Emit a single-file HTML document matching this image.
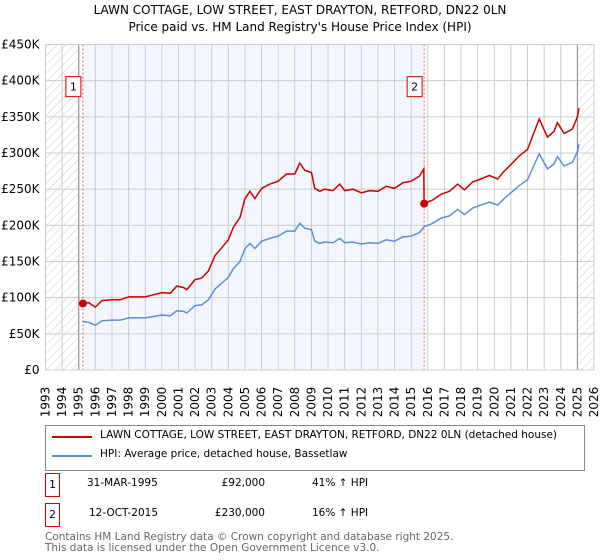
<!DOCTYPE html>
<html><head><meta charset="utf-8"><style>
body{margin:0;background:#fff;font-family:"DejaVu Sans","Liberation Sans",sans-serif;}
#wrap{position:relative;width:600px;height:560px;overflow:hidden;}
.t{position:absolute;font-size:12px;color:#000;white-space:nowrap;}
.box{position:absolute;width:13px;height:22px;border:1px solid #c00;font-size:11px;text-align:center;line-height:22px;}
svg text{font-family:"DejaVu Sans","Liberation Sans",sans-serif;}
</style></head><body><div id="wrap">
<div class="t" style="left:0;width:600px;text-align:center;top:3px;font-size:12px">LAWN COTTAGE, LOW STREET, EAST DRAYTON, RETFORD, DN22 0LN</div>
<div class="t" style="left:0;width:600px;text-align:center;top:20px;font-size:12px">Price paid vs. HM Land Registry's House Price Index (HPI)</div>
<svg id="c" width="600" height="420" style="position:absolute;left:0;top:0"></svg>
<div style="position:absolute;left:45px;top:425px;width:538px;height:44px;border:1px solid #888"></div>
<div style="position:absolute;left:52px;top:436px;width:40px;height:2px;background:#c00"></div>
<div class="t" style="left:100px;top:429px;font-size:10.5px">LAWN COTTAGE, LOW STREET, EAST DRAYTON, RETFORD, DN22 0LN (detached house)</div>
<div style="position:absolute;left:52px;top:455px;width:40px;height:2px;background:#5b8fd4"></div>
<div class="t" style="left:100px;top:448px;font-size:10.5px">HPI: Average price, detached house, Bassetlaw</div>
<div class="box" style="left:45px;top:473px">1</div>
<div class="t" style="left:87px;top:477px;font-size:10.5px">31-MAR-1995</div>
<div class="t" style="left:200px;width:65px;text-align:right;top:477px;font-size:10.5px">£92,000</div>
<div class="t" style="left:312px;top:477px;font-size:10.5px">41% ↑ HPI</div>
<div class="box" style="left:45px;top:503px">2</div>
<div class="t" style="left:89px;top:507px;font-size:10.5px">12-OCT-2015</div>
<div class="t" style="left:200px;width:65px;text-align:right;top:507px;font-size:10.5px">£230,000</div>
<div class="t" style="left:312px;top:507px;font-size:10.5px">16% ↑ HPI</div>
<div class="t" style="left:45px;top:532px;font-size:10.5px;color:#666;line-height:11px">Contains HM Land Registry data © Crown copyright and database right 2025.<br>This data is licensed under the Open Government Licence v3.0.</div>
</div>
<script>
const hpiDates=[1995.25,1995.6,1996.0,1996.4,1997,1997.5,1998,1998.5,1999,1999.5,2000,2000.5,2000.9,2001.3,2001.5,2002,2002.4,2002.8,2003.2,2003.6,2004,2004.3,2004.7,2005,2005.3,2005.6,2006,2006.5,2007,2007.5,2008,2008.3,2008.6,2009,2009.2,2009.5,2009.8,2010.3,2010.7,2011,2011.5,2012,2012.5,2013,2013.5,2014,2014.5,2015,2015.5,2015.78,2016.3,2016.8,2017.3,2017.8,2018.2,2018.7,2019.2,2019.7,2020.2,2020.6,2021,2021.5,2022,2022.7,2023.2,2023.6,2023.8,2024.2,2024.7,2025,2025.1];
const hpiValues=[67,66,62,68,69,69,72,72,72,74,76,75,82,81,79,89,90,97,112,120,128,140,150,168,175,168,178,182,185,192,192,203,196,194,178,175,177,176,182,176,177,174,176,175,180,178,184,185,190,198,203,210,213,222,215,224,228,232,228,237,245,255,263,299,278,285,295,282,287,302,312];
const propDates=[1995.25,1995.6,1996.0,1996.4,1997,1997.5,1998,1998.5,1999,1999.5,2000,2000.5,2000.9,2001.3,2001.5,2002,2002.4,2002.8,2003.2,2003.6,2004,2004.3,2004.7,2005,2005.3,2005.6,2006,2006.5,2007,2007.5,2008,2008.3,2008.6,2009,2009.2,2009.5,2009.8,2010.3,2010.7,2011,2011.5,2012,2012.5,2013,2013.5,2014,2014.5,2015,2015.5,2015.76,2015.78,2016.3,2016.8,2017.3,2017.8,2018.2,2018.7,2019.2,2019.7,2020.2,2020.6,2021,2021.5,2022,2022.7,2023.2,2023.6,2023.8,2024.2,2024.7,2025,2025.1];
const propValues=[92,93,87,96,97,97,101,101,101,104,107,106,116,114,111,125,127,137,158,169,180,197,211,237,247,237,251,257,261,271,271,286,276,273,251,247,250,248,257,248,250,245,248,247,254,251,259,261,268,278,230,235,243,247,257,249,260,264,269,264,275,284,296,305,347,322,330,342,327,333,350,362];
const saleDates=[1995.25,2015.78];
const saleValues=[92,230];
const saleLabels=["1","2"];
const yTicks=[0,50,100,150,200,250,300,350,400,450];
const yTickLabels=["£0","£50K","£100K","£150K","£200K","£250K","£300K","£350K","£400K","£450K"];
const xYears=[];for(let y=1993;y<=2026;y++)xYears.push(y);

const X0=45.5,X1=594,Y0=370,Y1=44.5;
const x=d=>X0+(d-1993)/(2026-1993)*(X1-X0);
const y=v=>Y0-v/450*(Y0-Y1);
const svg=document.getElementById('c');const NS='http://www.w3.org/2000/svg';
function mk(t,a){const e=document.createElementNS(NS,t);for(const k in a)e.setAttribute(k,a[k]);svg.appendChild(e);return e;}
const defs=mk('defs',{});
defs.innerHTML='<pattern id="h" width="6" height="6" patternUnits="userSpaceOnUse" patternTransform="rotate(45)"><line x1="0" y1="0" x2="0" y2="6" stroke="#ccc" stroke-width="1"/></pattern>';
let r=mk('rect',{x:x(1995.25),y:Y1,width:x(2015.78)-x(1995.25),height:Y0-Y1,fill:'#eef3fc',opacity:0.7});

r=mk('rect',{x:X0,y:Y1,width:x(1995)-X0,height:Y0-Y1,fill:'url(#h)'});

r=mk('rect',{x:x(2025),y:Y1,width:X1-x(2025),height:Y0-Y1,fill:'url(#h)'});

yTicks.forEach((v,i)=>{
 const l=mk('line',{x1:X0,x2:X1,y1:y(v),y2:y(v),stroke:'#ccc'});
 
 const t=mk('text',{x:X0-6,y:y(v)+4,'text-anchor':'end','font-size':12,fill:'#000'});t.textContent=yTickLabels[i];
 
});
xYears.forEach(yr=>{
 const l=mk('line',{x1:x(yr),x2:x(yr),y1:Y1,y2:Y0,stroke:'#ccc'});
 
 const t=mk('text',{x:x(yr)+4,y:Y0+32,'text-anchor':'middle','font-size':12,fill:'#000',transform:`rotate(-90 ${x(yr)+4} ${Y0+32})`});
 t.textContent=yr;
 
});
[1995,2025].forEach(d=>{const l=mk('line',{x1:x(d),x2:x(d),y1:Y1,y2:Y0,stroke:'#888','stroke-width':1});
 });
saleDates.forEach((d,i)=>{
 const l=mk('line',{x1:x(d),x2:x(d),y1:Y1,y2:Y0,stroke:'#e06060','stroke-dasharray':'2,2'});
 
});
const pts=(ds,vs)=>ds.map((d,i)=>x(d).toFixed(1)+','+y(vs[i]).toFixed(1)).join(' ');
let p=mk('polyline',{points:pts(hpiDates,hpiValues),fill:'none',stroke:'#5b8fd4','stroke-width':1.5});

p=mk('polyline',{points:pts(propDates,propValues),fill:'none',stroke:'#cc0000','stroke-width':1.5});

saleDates.forEach((d,i)=>{
 const c=mk('circle',{cx:x(d),cy:y(saleValues[i]),r:4,fill:'#cc0000'});
 
 const b=mk('rect',{x:x(d)-17,y:y(400)-4,width:15,height:20,fill:'#fff',stroke:'#cc0000'});
 
 const t=mk('text',{x:x(d)-9.5,y:y(400)+10,'text-anchor':'middle','font-size':11});t.textContent=saleLabels[i];
 
});
const fr=mk('rect',{x:X0,y:Y1,width:X1-X0,height:Y0-Y1,fill:'none',stroke:'#ccc'});

</script></body></html>
